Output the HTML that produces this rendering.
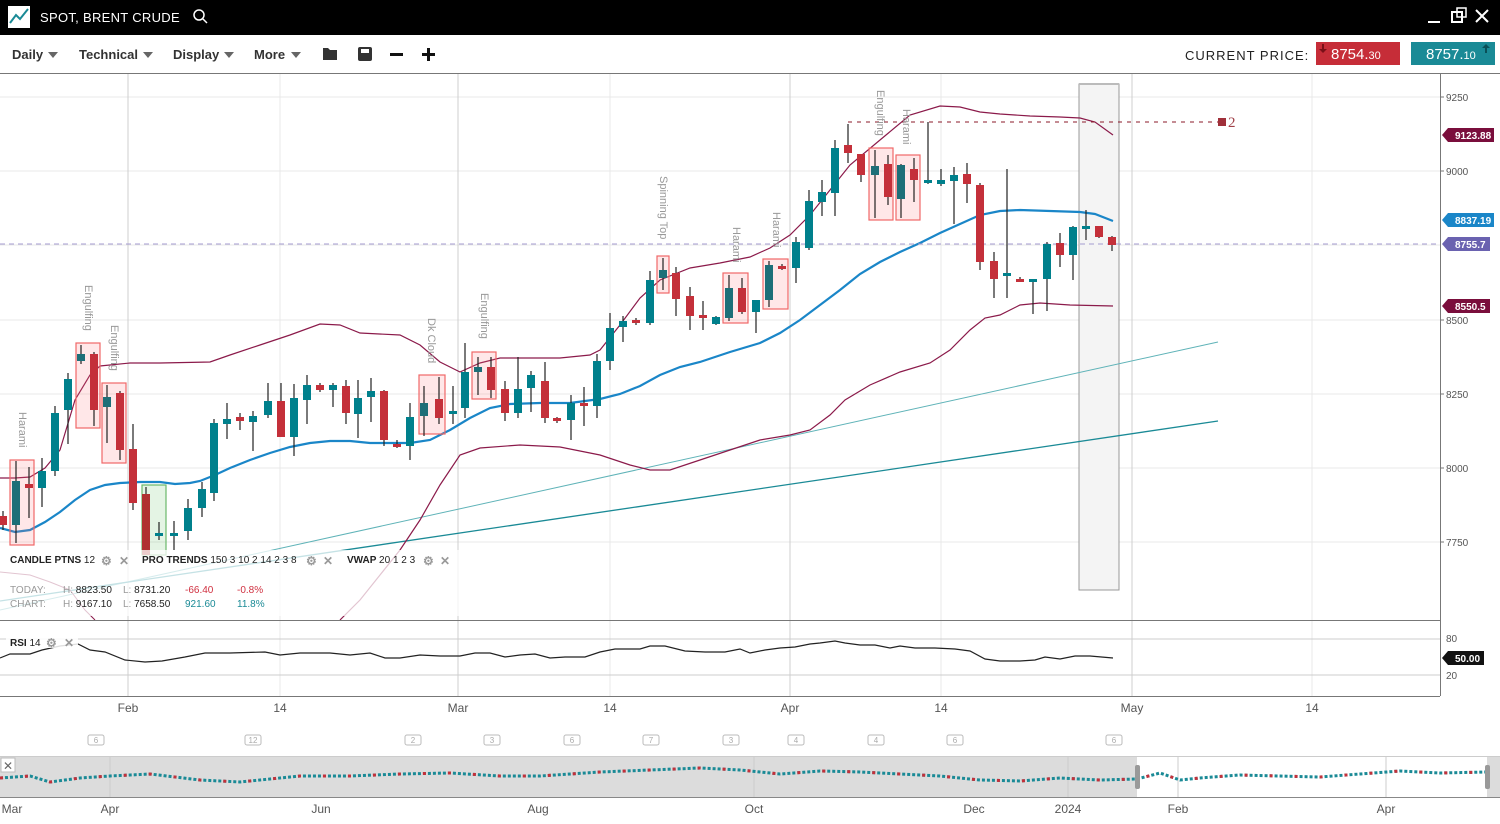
<!DOCTYPE html>
<html><head><meta charset="utf-8"><style>
body{margin:0;width:1500px;height:824px;overflow:hidden;background:#fff;font-family:"Liberation Sans",sans-serif}
svg{position:absolute;left:0;top:0}
</style></head><body>
<svg width="1500" height="824" viewBox="0 0 1500 824" font-family="Liberation Sans, sans-serif">
<rect x="0" y="0" width="1500" height="35" fill="#000"/>
<rect x="8" y="6" width="22" height="22" fill="#fff"/>
<polyline points="10,23 16,15 20,19 28,9" fill="none" stroke="#1a8a96" stroke-width="2"/>
<text x="40" y="22" fill="#fff" font-size="13" letter-spacing="0.3">SPOT, BRENT CRUDE</text>
<circle cx="199" cy="15" r="5" fill="none" stroke="#fff" stroke-width="1.5"/><line x1="203" y1="19" x2="207" y2="23" stroke="#fff" stroke-width="1.5"/>
<line x1="1428" y1="22" x2="1440" y2="22" stroke="#fff" stroke-width="2"/>
<rect x="1452" y="12" width="10" height="10" fill="none" stroke="#fff" stroke-width="2"/><rect x="1457" y="8" width="9" height="9" fill="none" stroke="#fff" stroke-width="1.5"/>
<path d="M1476 10 L1488 22 M1488 10 L1476 22" stroke="#fff" stroke-width="2"/>
<g font-size="13" font-weight="bold" fill="#333">
<text x="12" y="59">Daily</text><path d="M48 52 h10 l-5 6z" fill="#666"/>
<text x="79" y="59">Technical</text><path d="M143 52 h10 l-5 6z" fill="#666"/>
<text x="173" y="59">Display</text><path d="M224 52 h10 l-5 6z" fill="#666"/>
<text x="254" y="59">More</text><path d="M291 52 h10 l-5 6z" fill="#666"/>
</g>
<path d="M323 48 h5 l2 2 h7 v10 h-14z" fill="#333"/>
<rect x="358" y="47" width="14" height="14" rx="2" fill="#333"/><rect x="361" y="49" width="8" height="4" fill="#fff"/>
<rect x="390" y="53" width="13" height="3" fill="#111"/>
<rect x="422" y="53" width="13" height="3" fill="#111"/><rect x="427" y="48" width="3" height="13" fill="#111"/>
<text x="1185" y="60" font-size="13" fill="#222" letter-spacing="1">CURRENT PRICE:</text>
<rect x="1316" y="42" width="84" height="23" fill="#c62d38"/>
<text x="1331" y="59" font-size="15" fill="#fff">8754.<tspan font-size="11">30</tspan></text>
<path d="M1322 44 v5 h-3 l4 4 4-4 h-3 v-5z" fill="#7a1018"/>
<rect x="1411" y="42" width="84" height="23" fill="#1a8a96"/>
<text x="1426" y="59" font-size="15" fill="#fff">8757.<tspan font-size="11">10</tspan></text>
<path d="M1485 53 v-5 h-3 l4-4 4 4 h-3 v5z" fill="#0a5058"/>
<line x1="0" y1="73.5" x2="1500" y2="73.5" stroke="#777"/>
<g stroke="#e8e8e8">
<line x1="0" y1="97" x2="1440" y2="97"/><line x1="0" y1="171" x2="1440" y2="171"/><line x1="0" y1="245" x2="1440" y2="245"/>
<line x1="0" y1="320" x2="1440" y2="320"/><line x1="0" y1="394" x2="1440" y2="394"/><line x1="0" y1="468" x2="1440" y2="468"/><line x1="0" y1="542" x2="1440" y2="542"/>
<line x1="280" y1="74" x2="280" y2="696"/><line x1="610" y1="74" x2="610" y2="696"/><line x1="941" y1="74" x2="941" y2="696"/><line x1="1312" y1="74" x2="1312" y2="696"/>
</g>
<g stroke="#cfcfcf">
<line x1="128" y1="74" x2="128" y2="696"/><line x1="458" y1="74" x2="458" y2="696"/><line x1="790" y1="74" x2="790" y2="696"/><line x1="1132" y1="74" x2="1132" y2="696"/>
</g>
<rect x="1079" y="84" width="40" height="506" fill="#f4f4f4" stroke="#999" stroke-width="1"/>
<line x1="1079" y1="84" x2="1119" y2="84" stroke="#bbb" stroke-width="2"/>
<line x1="0" y1="610" x2="1218" y2="342" stroke="#5fb3b8" stroke-width="1"/>
<line x1="0" y1="601" x2="1218" y2="421" stroke="#1a8a96" stroke-width="1.3"/>
<polyline fill="none" stroke="#8b1a4a" stroke-width="1.2" points="0,478 15,478 30,477 45,468 60,450 75,400 90,375 100,366 130,363 160,363 210,362 230,355 260,345 290,335 320,324 340,325 360,333 400,335 420,345 440,362 460,372 480,363 500,358 560,358 590,355 600,350 620,325 640,298 660,280 690,268 720,263 750,257 770,248 790,235 810,215 830,190 850,165 880,140 910,115 940,106 960,107 980,112 1000,114 1030,116 1060,117 1080,118 1095,122 1113,135"/>
<polyline fill="none" stroke="#8b1a4a" stroke-width="1.2" points="340,620 360,600 380,575 400,550 420,520 440,485 460,455 480,448 520,445 560,447 600,455 630,465 650,470 670,470 700,460 730,450 760,440 790,435 810,430 830,415 845,400 870,385 900,372 930,363 950,350 970,330 985,318 1000,315 1020,305 1040,303 1070,305 1113,306"/>
<polyline fill="none" stroke="#8b1a4a" stroke-width="1" points="0,572 30,575 50,582 70,590 85,610 95,620"/>
<polyline fill="none" stroke="#1a86c8" stroke-width="2.2" points="0,528 15,532 30,530 45,522 60,512 75,500 90,490 105,485 120,483 140,482 160,482 175,484 190,483 200,481 215,475 230,468 250,460 270,453 290,447 310,443 330,441 350,441 370,443 390,443 410,443 430,440 450,430 470,418 490,408 510,404 540,403 570,403 600,399 620,394 640,386 660,375 680,367 700,362 730,352 760,343 780,333 800,320 820,305 840,290 860,274 880,262 900,252 920,243 940,233 960,224 980,215 1000,211 1020,210 1050,211 1080,212 1095,214 1113,221"/>
<line x1="0" y1="244" x2="1440" y2="244" stroke="#a59bd0" stroke-dasharray="5,4"/>
<line x1="848" y1="122" x2="1220" y2="122" stroke="#8b1a2a" stroke-dasharray="4,5"/>
<rect x="1218" y="118" width="8" height="8" fill="#a0303a"/>
<text x="1228" y="127" font-size="15" fill="#a04048" font-family="Liberation Serif, serif">2</text>
<g fill="rgba(255,120,130,0.18)" stroke="#f06868" stroke-width="1.2">
<rect x="10" y="460" width="24" height="85"/><rect x="76" y="343" width="24" height="85"/><rect x="102" y="383" width="24" height="80"/>
<rect x="419" y="375" width="26" height="59"/><rect x="472" y="352" width="24" height="47"/><rect x="657" y="256" width="12" height="37"/>
<rect x="723" y="273" width="25" height="50"/><rect x="763" y="259" width="25" height="50"/><rect x="869" y="148" width="24" height="72"/><rect x="896" y="155" width="24" height="65"/>
</g>
<rect x="142" y="485" width="24" height="70" fill="rgba(120,200,120,0.2)" stroke="#6ab86a" stroke-width="1.2"/>
<g fill="#999" font-size="11">
<text transform="translate(19,412) rotate(90)">Harami</text>
<text transform="translate(85,285) rotate(90)">Engulfing</text>
<text transform="translate(111,325) rotate(90)">Engulfing</text>
<text transform="translate(428,318) rotate(90)">Dk Cloud</text>
<text transform="translate(481,293) rotate(90)">Engulfing</text>
<text transform="translate(660,176) rotate(90)">Spinning Top</text>
<text transform="translate(733,227) rotate(90)">Harami</text>
<text transform="translate(773,212) rotate(90)">Harami</text>
<text transform="translate(877,90) rotate(90)">Engulfing</text>
<text transform="translate(903,109) rotate(90)">Harami</text>
</g>
<path stroke="#222" stroke-width="1.2" fill="none" d="M3 511V530M16 461V543M29 467V518M42 458V507M55 406V476M68 373V444M81 345V364M94 352V426M107 385V443M120 391V460M133 424V510M146 487V555M159 522V540M174 521V550M188 499V540M202 482V517M214 419V501M227 403V439M240 413V430M253 411V451M268 383V418M281 383V437M294 384V456M307 375V424M320 383V392M333 383V407M346 380V424M358 380V438M371 378V422M384 390V446M397 440V448M410 403V460M424 386V436M439 377V424M453 386V424M465 343V418M478 357V395M491 357V398M505 381V421M518 357V418M531 371V412M545 362V423M557 417V423M571 395V440M584 387V426M597 354V418M610 313V370M623 316V342M636 318V325M650 271V325M663 258V290M676 267V316M690 287V330M703 301V330M716 316V325M729 275V321M742 278V314M756 300V333M769 261V307M782 264V270M796 237V283M809 190V250M822 180V216M835 140V216M848 124V163M861 154V182M875 150V218M888 155V205M901 164V218M914 158V202M928 122V184M941 169V186M954 167V224M967 163V203M980 183V270M994 252V298M1007 169V298M1020 277V282M1033 279V314M1047 242V311M1060 233V267M1073 226V280M1086 210V240M1099 226V238M1112 236V251"/>
<g fill="#00808c">
<rect x="12" y="481" width="8" height="44" fill="#1d6f78"/><rect x="38" y="471" width="8" height="17"/><rect x="51" y="413" width="8" height="58"/><rect x="64" y="379" width="8" height="31"/><rect x="77" y="354" width="8" height="7" fill="#1d6f78"/><rect x="103" y="397" width="8" height="10" fill="#1d6f78"/>
<rect x="155" y="533" width="8" height="3"/><rect x="170" y="533" width="8" height="3"/><rect x="184" y="508" width="8" height="23"/><rect x="198" y="489" width="8" height="19"/><rect x="210" y="423" width="8" height="70"/><rect x="223" y="419" width="8" height="5"/><rect x="249" y="416" width="8" height="6"/><rect x="264" y="401" width="8" height="14"/><rect x="290" y="398" width="8" height="39"/><rect x="303" y="385" width="8" height="15"/><rect x="329" y="385" width="8" height="5"/><rect x="354" y="398" width="8" height="16"/><rect x="367" y="391" width="8" height="6"/><rect x="406" y="417" width="8" height="29"/><rect x="420" y="403" width="8" height="13" fill="#1d6f78"/><rect x="449" y="411" width="8" height="3"/>
<rect x="461" y="372" width="8" height="36"/><rect x="474" y="367" width="8" height="5" fill="#1d6f78"/><rect x="514" y="389" width="8" height="24"/><rect x="527" y="375" width="8" height="13"/><rect x="567" y="403" width="8" height="17"/><rect x="593" y="361" width="8" height="45"/><rect x="606" y="328" width="8" height="33"/><rect x="619" y="321" width="8" height="6"/><rect x="646" y="280" width="8" height="43"/><rect x="659" y="270" width="8" height="8" fill="#1d6f78"/><rect x="712" y="317" width="8" height="7"/><rect x="725" y="288" width="8" height="30" fill="#1d6f78"/><rect x="752" y="300" width="8" height="12"/><rect x="765" y="265" width="8" height="35" fill="#1d6f78"/><rect x="792" y="242" width="8" height="26"/><rect x="805" y="201" width="8" height="47"/><rect x="818" y="192" width="8" height="10"/><rect x="831" y="148" width="8" height="45"/>
<rect x="871" y="166" width="8" height="9" fill="#1d6f78"/><rect x="897" y="165" width="8" height="34" fill="#1d6f78"/><rect x="924" y="180" width="8" height="3"/><rect x="937" y="180" width="8" height="4"/><rect x="950" y="175" width="8" height="6"/><rect x="1003" y="273" width="8" height="3"/><rect x="1029" y="279" width="8" height="3"/><rect x="1043" y="244" width="8" height="35"/><rect x="1069" y="227" width="8" height="28"/><rect x="1082" y="226" width="8" height="3"/>
</g>
<g fill="#c4303a">
<rect x="-1" y="516" width="8" height="9"/><rect x="25" y="484" width="8" height="4"/><rect x="90" y="354" width="8" height="56"/><rect x="116" y="393" width="8" height="57"/><rect x="129" y="449" width="8" height="54"/><rect x="142" y="494" width="8" height="61" fill="#b03030"/><rect x="236" y="417" width="8" height="4"/><rect x="277" y="401" width="8" height="36"/><rect x="316" y="385" width="8" height="5"/><rect x="342" y="386" width="8" height="27"/><rect x="380" y="391" width="8" height="49"/><rect x="393" y="444" width="8" height="3"/><rect x="435" y="399" width="8" height="19"/>
<rect x="487" y="367" width="8" height="23"/><rect x="501" y="389" width="8" height="24"/><rect x="541" y="381" width="8" height="37"/><rect x="553" y="418" width="8" height="3"/><rect x="580" y="403" width="8" height="3"/><rect x="632" y="320" width="8" height="3"/><rect x="672" y="273" width="8" height="26"/><rect x="686" y="296" width="8" height="20"/><rect x="699" y="315" width="8" height="3"/><rect x="738" y="288" width="8" height="24"/><rect x="778" y="266" width="8" height="3"/>
<rect x="844" y="145" width="8" height="8"/><rect x="857" y="154" width="8" height="21"/><rect x="884" y="164" width="8" height="33"/><rect x="910" y="169" width="8" height="11"/><rect x="963" y="174" width="8" height="10"/><rect x="976" y="185" width="8" height="77"/><rect x="990" y="261" width="8" height="18"/><rect x="1016" y="279" width="8" height="3"/><rect x="1056" y="243" width="8" height="12"/><rect x="1095" y="226" width="8" height="11"/><rect x="1108" y="237" width="8" height="8"/>
</g>
<rect x="0" y="550" width="460" height="66" fill="#fff" opacity="0.75"/>
<g font-size="10" fill="#222">
<text x="10" y="563" font-weight="bold">CANDLE PTNS <tspan font-weight="normal">12</tspan></text>
<text x="142" y="563" font-weight="bold">PRO TRENDS <tspan font-weight="normal">150 3 10 2 14 2 3 8</tspan></text>
<text x="347" y="563" font-weight="bold">VWAP <tspan font-weight="normal">20 1 2 3</tspan></text>
<text x="10" y="593" fill="#999">TODAY:</text><text x="63" y="593"><tspan fill="#999">H:</tspan> 8823.50</text><text x="123" y="593"><tspan fill="#999">L:</tspan> 8731.20</text><text x="185" y="593" fill="#d03040">-66.40</text><text x="237" y="593" fill="#d03040">-0.8%</text>
<text x="10" y="607" fill="#999">CHART:</text><text x="63" y="607"><tspan fill="#999">H:</tspan> 9167.10</text><text x="123" y="607"><tspan fill="#999">L:</tspan> 7658.50</text><text x="185" y="607" fill="#1a8a96">921.60</text><text x="237" y="607" fill="#1a8a96">11.8%</text>
</g>
<g fill="#999" font-size="12" font-weight="bold">
<text x="101" y="565">⚙</text><text x="119" y="565">✕</text><text x="306" y="565">⚙</text><text x="323" y="565">✕</text><text x="423" y="565">⚙</text><text x="440" y="565">✕</text>
</g>
<line x1="0" y1="620.5" x2="1440" y2="620.5" stroke="#777"/>
<line x1="0" y1="696.5" x2="1440" y2="696.5" stroke="#777"/>
<line x1="1440.5" y1="74" x2="1440.5" y2="696" stroke="#777"/>
<g font-size="10" fill="#555">
<text x="1446" y="101">9250</text><text x="1446" y="175">9000</text><text x="1446" y="324">8500</text><text x="1446" y="398">8250</text><text x="1446" y="472">8000</text><text x="1446" y="546">7750</text>
<text x="1446" y="642">80</text><text x="1446" y="679">20</text>
</g>
<g stroke="#777"><line x1="1440" y1="97" x2="1444" y2="97"/><line x1="1440" y1="171" x2="1444" y2="171"/><line x1="1440" y1="320" x2="1444" y2="320"/><line x1="1440" y1="394" x2="1444" y2="394"/><line x1="1440" y1="468" x2="1444" y2="468"/><line x1="1440" y1="542" x2="1444" y2="542"/></g>
<g font-size="10" font-weight="bold" fill="#fff">
<path d="M1448 128 h46 v14 h-46 l-6 -7z" fill="#7a0e3c"/><text x="1455" y="139">9123.88</text>
<path d="M1448 213 h46 v14 h-46 l-6 -7z" fill="#1a86c8"/><text x="1455" y="224">8837.19</text>
<path d="M1448 237 h42 v14 h-42 l-6 -7z" fill="#6a62b0"/><text x="1455" y="248">8755.7</text>
<path d="M1448 299 h42 v14 h-42 l-6 -7z" fill="#7a0e3c"/><text x="1455" y="310">8550.5</text>
<path d="M1448 651 h36 v14 h-36 l-6 -7z" fill="#111"/><text x="1455" y="662">50.00</text>
</g>
<line x1="0" y1="639" x2="1440" y2="639" stroke="#ccc"/><line x1="0" y1="675" x2="1440" y2="675" stroke="#ccc"/>
<polyline fill="none" stroke="#222" stroke-width="1.2" points="0,658 10,654 30,654 42,650 60,646 78,644 90,650 105,652 125,660 145,662 162,661 185,657 205,653 230,653 265,652 280,655 300,653 330,653 350,655 370,653 385,658 400,658 420,655 440,656 460,656 475,653 490,653 505,657 520,655 535,654 550,658 565,657 585,657 600,652 615,649 640,649 650,646 665,646 685,651 705,652 725,652 740,649 750,653 765,650 780,648 795,647 810,644 820,643 835,641 845,643 860,645 875,645 890,648 900,646 915,648 935,648 955,649 970,651 985,659 1000,661 1020,661 1035,660 1045,657 1060,659 1075,656 1090,656 1113,658"/>
<rect x="6" y="634" width="72" height="14" fill="#fff" opacity="0.85"/>
<text x="10" y="646" font-size="10" fill="#222" font-weight="bold">RSI <tspan font-weight="normal">14</tspan></text>
<text x="46" y="647" font-size="12" fill="#999" font-weight="bold">⚙</text><text x="64" y="647" font-size="12" fill="#999" font-weight="bold">✕</text>
<g font-size="12" fill="#555" text-anchor="middle">
<text x="128" y="712">Feb</text><text x="280" y="712">14</text><text x="458" y="712">Mar</text><text x="610" y="712">14</text><text x="790" y="712">Apr</text><text x="941" y="712">14</text><text x="1132" y="712">May</text><text x="1312" y="712">14</text>
</g>
<g fill="none" stroke="#bbb">
<rect x="88" y="735" width="16" height="10" rx="2"/><rect x="245" y="735" width="16" height="10" rx="2"/><rect x="405" y="735" width="16" height="10" rx="2"/><rect x="484" y="735" width="16" height="10" rx="2"/><rect x="564" y="735" width="16" height="10" rx="2"/><rect x="643" y="735" width="16" height="10" rx="2"/><rect x="723" y="735" width="16" height="10" rx="2"/><rect x="788" y="735" width="16" height="10" rx="2"/><rect x="868" y="735" width="16" height="10" rx="2"/><rect x="947" y="735" width="16" height="10" rx="2"/><rect x="1106" y="735" width="16" height="10" rx="2"/>
</g>
<g fill="#aaa" font-size="8" text-anchor="middle">
<text x="96" y="743">6</text><text x="253" y="743">12</text><text x="413" y="743">2</text><text x="492" y="743">3</text><text x="572" y="743">6</text><text x="651" y="743">7</text><text x="731" y="743">3</text><text x="796" y="743">4</text><text x="876" y="743">4</text><text x="955" y="743">6</text><text x="1114" y="743">6</text>
</g>
<rect x="0" y="757" width="1500" height="40" fill="#dcdcdc"/>
<rect x="1137" y="757" width="350" height="40" fill="#fff"/>
<line x1="0" y1="756.5" x2="1500" y2="756.5" stroke="#ccc"/>
<line x1="0" y1="797.5" x2="1500" y2="797.5" stroke="#888"/>
<g stroke="#ccc"><line x1="110" y1="757" x2="110" y2="797"/><line x1="754" y1="757" x2="754" y2="797"/><line x1="1068" y1="757" x2="1068" y2="797"/><line x1="1178" y1="757" x2="1178" y2="797"/><line x1="1386" y1="757" x2="1386" y2="797"/></g>
<polyline fill="none" stroke="#1a8a96" stroke-width="3" stroke-dasharray="3,2" points="0,778 30,776 50,782 80,778 110,776 150,774 200,780 240,782 300,776 350,776 400,774 450,773 500,776 540,776 600,772 650,770 700,768 740,770 780,774 820,771 860,772 900,774 940,776 980,780 1020,781 1060,778 1100,780 1137,779 1160,773 1180,780 1200,778 1240,775 1280,776 1320,777 1360,774 1400,771 1440,773 1487,772"/>
<polyline fill="none" stroke="#c4303a" stroke-width="3" stroke-dasharray="3,22" points="0,778 30,776 50,782 80,778 110,776 150,774 200,780 240,782 300,776 350,776 400,774 450,773 500,776 540,776 600,772 650,770 700,768 740,770 780,774 820,771 860,772 900,774 940,776 980,780 1020,781 1060,778 1100,780 1137,779 1160,773 1180,780 1200,778 1240,775 1280,776 1320,777 1360,774 1400,771 1440,773 1487,772"/>
<rect x="1135" y="765" width="5" height="24" rx="2" fill="#999"/><rect x="1485" y="765" width="5" height="24" rx="2" fill="#999"/>
<rect x="1" y="758" width="14" height="14" fill="#fff" stroke="#bbb"/><text x="3" y="770" font-size="12" fill="#666">✕</text>
<g font-size="12" fill="#555" text-anchor="middle">
<text x="12" y="813">Mar</text><text x="110" y="813">Apr</text><text x="321" y="813">Jun</text><text x="538" y="813">Aug</text><text x="754" y="813">Oct</text><text x="974" y="813">Dec</text><text x="1068" y="813">2024</text><text x="1178" y="813">Feb</text><text x="1386" y="813">Apr</text>
</g>
</svg>
</body></html>
